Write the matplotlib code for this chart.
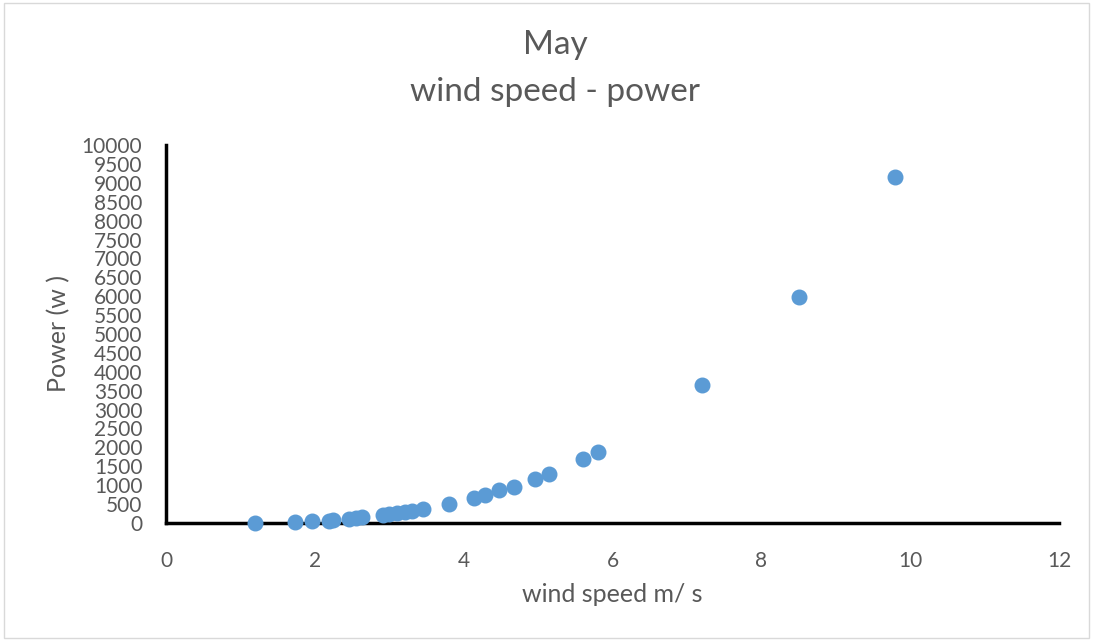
import numpy as np
import matplotlib.pyplot as plt

plt.rcParams['font.family'] = ['Lato', 'DejaVu Sans']

wind_speed = [1.2, 1.73, 1.96, 2.19, 2.25, 2.46, 2.55, 2.63, 2.92, 3.0, 3.1,
              3.21, 3.3, 3.46, 3.8, 4.14, 4.29, 4.48, 4.67, 4.96, 5.14, 5.6,
              5.8, 7.2, 8.5, 9.8]
power = [0, 20, 50, 60, 85, 100, 140, 160, 210, 240, 265, 300, 330, 380, 500,
         660, 750, 870, 960, 1160, 1300, 1680, 1880, 3640, 5970, 9160]

grey = '#595959'

fig = plt.figure(figsize=(10.93, 6.41), dpi=100)
ax = fig.add_axes([166 / 1093, 1 - 523 / 641, (1059 - 166) / 1093, (523 - 145) / 641])

ax.scatter(wind_speed, power, s=110, color='#5B9BD5', zorder=3, clip_on=False)

ax.set_xlim(0, 12)
ax.set_ylim(0, 10000)
ax.set_xticks(np.arange(0, 13, 2))
ax.set_yticks(np.arange(0, 10001, 500))
ax.tick_params(length=0, labelsize=15, colors=grey)
ax.tick_params(axis='x', pad=20)
ax.tick_params(axis='y', pad=17)

for s in ['top', 'right']:
    ax.spines[s].set_visible(False)
for s in ['left', 'bottom']:
    ax.spines[s].set_linewidth(2.5)
    ax.spines[s].set_color('black')

ax.set_xlabel('wind speed m/ s', fontsize=18, color=grey, labelpad=9)
ax.set_ylabel('Power (w )', fontsize=18, color=grey, labelpad=8)

fig.text(0.508, 1 - 45 / 641, 'May', ha='center', va='center', fontsize=24, color=grey)
fig.text(0.508, 1 - 92 / 641, 'wind speed - power', ha='center', va='center', fontsize=24, color=grey)

fig.patches.append(plt.Rectangle((0.004, 0.004), 0.992, 0.992, transform=fig.transFigure,
                                 fill=False, edgecolor='#d9d9d9', linewidth=1))

fig.savefig('out.png', dpi=100)
